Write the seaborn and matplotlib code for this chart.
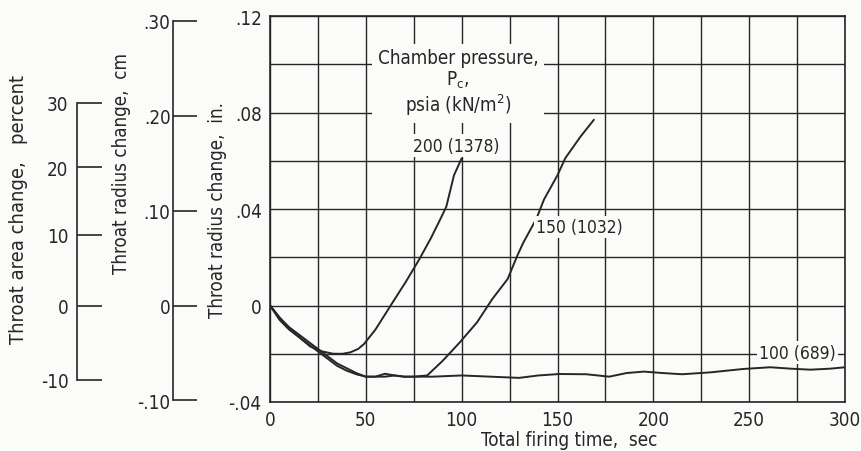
import numpy as np
import pandas as pd
import seaborn as sns
import matplotlib.pyplot as plt
from matplotlib.ticker import MultipleLocator

# curves: time (sec) vs throat radius change (in.)
t_200 = [0, 4, 9, 15, 21, 27, 33, 38, 42, 46, 49, 55, 64, 71, 78, 84, 89, 92, 96, 100]
r_200 = [0, -0.004, -0.009, -0.013, -0.017, -0.019, -0.020, -0.020, -0.0194, -0.018, -0.016,
         -0.010, 0.0013, 0.010, 0.0193, 0.028, 0.036, 0.041, 0.054, 0.061]

t_150 = [0, 5, 10, 15, 20, 25, 30, 35, 40, 45, 50, 55, 60, 65, 70, 75, 82, 90, 99, 108,
         116, 124, 129, 132, 139, 143, 150, 154, 162, 169]
r_150 = [0, -0.005, -0.009, -0.012, -0.015, -0.018, -0.021, -0.024, -0.026, -0.028, -0.0295,
         -0.0295, -0.0283, -0.029, -0.0295, -0.0295, -0.029, -0.023, -0.0153, -0.007,
         0.0027, 0.011, 0.0206, 0.0258, 0.036, 0.044, 0.054, 0.061, 0.070, 0.077]

t_100 = [0, 5, 10, 15, 20, 25, 30, 35, 40, 45, 50, 55, 60, 65, 70, 75, 85, 100, 115, 130,
         140, 151, 165, 177, 186, 195, 205, 215, 230, 247, 261, 272, 282, 292, 300]
r_100 = [0, -0.006, -0.010, -0.013, -0.016, -0.019, -0.022, -0.025, -0.027, -0.0285, -0.0295,
         -0.0295, -0.0295, -0.029, -0.0295, -0.0295, -0.0295, -0.029, -0.0295, -0.030,
         -0.029, -0.0284, -0.0285, -0.0295, -0.028, -0.0274, -0.028, -0.0285, -0.0277,
         -0.0263, -0.0256, -0.0262, -0.0266, -0.0262, -0.0256]

curve_labels = ['200 (1378)', '150 (1032)', '100 (689)']
label_pos = [(97, 0.0663), (161.5, 0.0325), (275, -0.0195)]

y_ticks = [-0.04, 0, 0.04, 0.08, 0.12]
y_ticklabels = ['-.04', '0', '.04', '.08', '.12']
cm_ticks = [-0.1, 0, 0.1, 0.2, 0.3]
cm_ticklabels = ['-.10', '0', '.10', '.20', '.30']
pct_ticks = [-10, 0, 10, 20, 30]
pct_ticklabels = ['-10', '0', '10', '20', '30']
THROAT_RADIUS_IN = 0.6

df = pd.concat([
    pd.DataFrame({'t': t_200, 'r': r_200, 'pc': curve_labels[0]}),
    pd.DataFrame({'t': t_150, 'r': r_150, 'pc': curve_labels[1]}),
    pd.DataFrame({'t': t_100, 'r': r_100, 'pc': curve_labels[2]}),
])

sns.set_style('white')
plt.rcParams['font.family'] = ['Liberation Sans Narrow', 'DejaVu Sans']
plt.rcParams['font.stretch'] = 'condensed'
plt.rcParams['mathtext.default'] = 'regular'
plt.rcParams['axes.unicode_minus'] = False
ink = '#262626'
paper = '#fbfbf9'
plt.rcParams['text.color'] = ink
plt.rcParams['xtick.color'] = ink
plt.rcParams['ytick.color'] = ink
fs = 13.5

fig = plt.figure(figsize=(8.62, 4.52), dpi=100, facecolor=paper)
ax = fig.add_axes([270 / 862, 49 / 452, 575 / 862, 386 / 452])
ax.set_facecolor(paper)

sns.lineplot(data=df, x='t', y='r', hue='pc', units='pc', estimator=None, sort=False,
             palette=[ink] * 3, linewidth=1.4, legend=False, ax=ax)

ax.set_xlim(0, 300)
ax.set_ylim(-0.04, 0.12)
ax.set_xticks(range(0, 301, 50))
ax.xaxis.set_minor_locator(MultipleLocator(25))
ax.set_yticks(y_ticks, y_ticklabels)
ax.yaxis.set_minor_locator(MultipleLocator(0.02))
ax.grid(which='both', color=ink, linewidth=1.0)
ax.set_axisbelow(True)
for s in ax.spines.values():
    s.set_color(ink)
    s.set_linewidth(1.2)
ax.tick_params(which='both', direction='out', length=3, width=1, labelsize=fs, pad=3)
ax.set_xlabel('Total firing time,  sec', fontsize=fs)
ax.xaxis.set_label_coords(0.52, -0.073)
ax.set_ylabel('Throat radius change,  in.', fontsize=fs)
ax.yaxis.set_label_coords(-0.074, 0.5)

box = dict(facecolor=paper, edgecolor='none', pad=1.5)
ax.text(98, 0.0925, 'Chamber pressure,\n$P_c$,\npsia (kN/m$^2$)', ha='center', va='center',
        fontsize=fs, linespacing=1.1, bbox=dict(facecolor=paper, edgecolor='none', pad=4))
for lab, (x, y) in zip(curve_labels, label_pos):
    ax.text(x, y, lab, ha='center', va='center', fontsize=12.5, bbox=box)

# cm scale
sec_cm = ax.secondary_yaxis(-0.168, functions=(lambda v: v * 2.54, lambda v: v / 2.54))
sec_cm.set_yticks(cm_ticks, cm_ticklabels)
sec_cm.spines['left'].set_bounds(-0.1, 0.3)
sec_cm.spines['left'].set_color(ink)
sec_cm.spines['left'].set_linewidth(1.2)
sec_cm.tick_params(direction='in', length=17, width=1.2, labelsize=fs, pad=2)


def to_pct(v):
    return ((1 + np.asarray(v) / THROAT_RADIUS_IN) ** 2 - 1) * 100


def from_pct(p):
    return THROAT_RADIUS_IN * (np.sqrt(np.clip(1 + np.asarray(p) / 100, 0, None)) - 1)


sec_pct = ax.secondary_yaxis(-0.336, functions=(to_pct, from_pct))
sec_pct.set_yticks(pct_ticks, pct_ticklabels)
sec_pct.spines['left'].set_bounds(-10, 30)
sec_pct.spines['left'].set_color(ink)
sec_pct.spines['left'].set_linewidth(1.2)
sec_pct.tick_params(direction='in', length=18, width=1.2, labelsize=fs, pad=6)

fig.text(122 / 862, 1 - 164 / 452, 'Throat radius change,  cm', rotation=90,
         ha='center', va='center', fontsize=fs)
fig.text(19 / 862, 1 - 210 / 452, 'Throat area change,   percent', rotation=90,
         ha='center', va='center', fontsize=14.5)

fig.savefig('out.png', dpi=100, facecolor=fig.get_facecolor())
